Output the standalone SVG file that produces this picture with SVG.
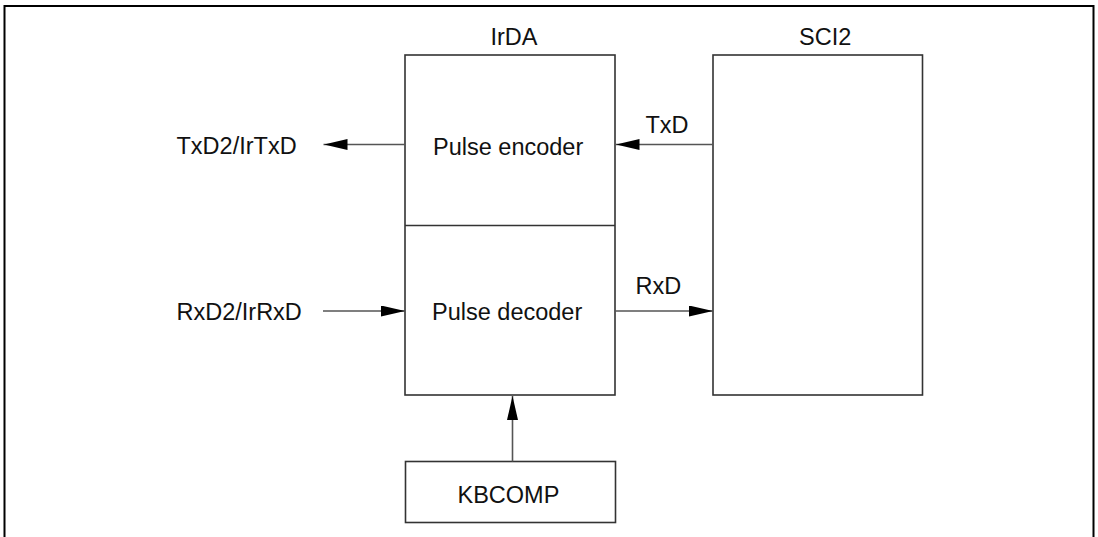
<svg xmlns="http://www.w3.org/2000/svg" width="1098" height="537" viewBox="0 0 1098 537">
<style>
text{font-family:"Liberation Sans",Arial,sans-serif;font-size:23.5px;fill:#111}
.box{fill:#fff;stroke:#333;stroke-width:1.6}
.conn{stroke:#555;stroke-width:1.6;fill:none}
.frame{fill:none;stroke:#000;stroke-width:2}
</style>
<defs>
<marker id="ah" markerUnits="userSpaceOnUse" markerWidth="24" markerHeight="11" refX="24" refY="5.5" orient="auto" viewBox="0 0 24 11">
<path d="M0,0 L24,5.5 L0,11 z" fill="#000"/>
</marker>
</defs>
<path class="frame" d="M4.5,537 V6 H1093.5 V537"/>
<g id="irda">
<rect class="box" x="405" y="55" width="210" height="340"/>
<line x1="405" y1="225.5" x2="615" y2="225.5" stroke="#333" stroke-width="1.6"/>
<text x="490.5" y="45">IrDA</text>
<text x="433" y="155">Pulse encoder</text>
<text x="432" y="320">Pulse decoder</text>
</g>
<g id="sci2">
<rect class="box" x="713" y="55" width="209.5" height="340"/>
<text x="799" y="44.5">SCI2</text>
</g>
<g id="kbcomp">
<rect class="box" x="405.5" y="461.5" width="210" height="61"/>
<text x="457.5" y="502.5">KBCOMP</text>
</g>
<g id="labels">
<text x="176.5" y="153.5">TxD2/IrTxD</text>
<text x="176.5" y="320">RxD2/IrRxD</text>
<text x="645.5" y="132.5">TxD</text>
<text x="635.5" y="294">RxD</text>
</g>
<g id="connectors">
<line class="conn" x1="405" y1="144.5" x2="323.5" y2="144.5" marker-end="url(#ah)"/>
<line class="conn" x1="713" y1="144.5" x2="615.5" y2="144.5" marker-end="url(#ah)"/>
<line class="conn" x1="323" y1="311" x2="405" y2="311" marker-end="url(#ah)"/>
<line class="conn" x1="615" y1="311" x2="713" y2="311" marker-end="url(#ah)"/>
<line class="conn" x1="512.5" y1="461.5" x2="512.5" y2="396" marker-end="url(#ah)"/>
</g>
</svg>
